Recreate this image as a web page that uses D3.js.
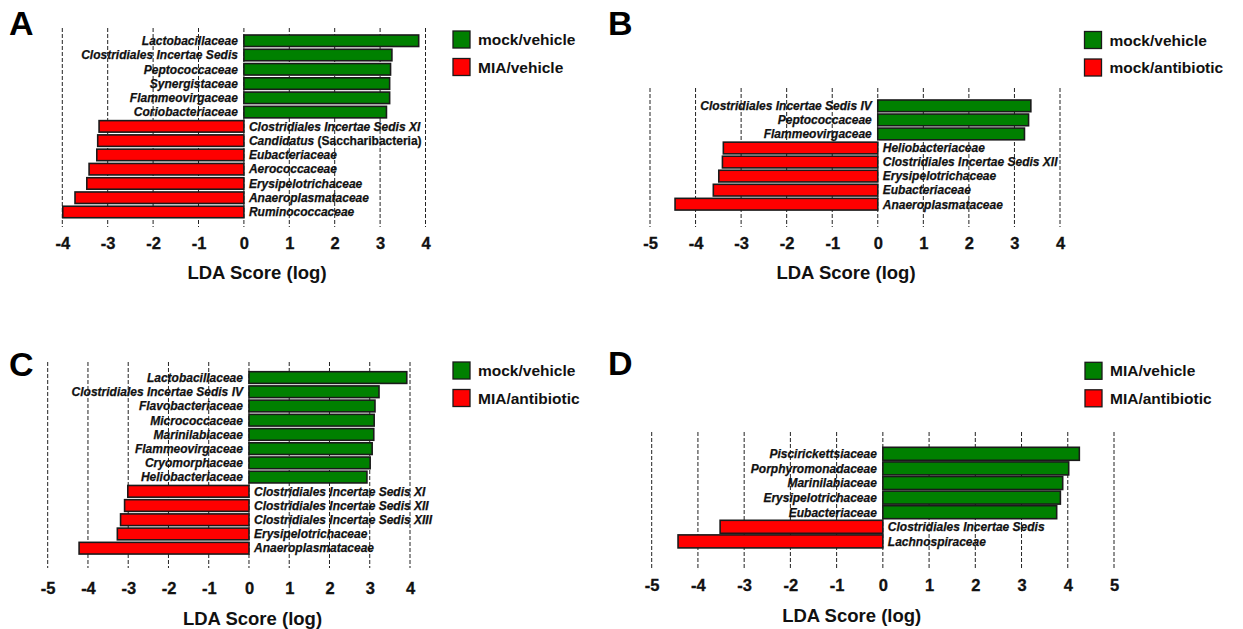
<!DOCTYPE html>
<html>
<head>
<meta charset="utf-8">
<script src="https://cdn.jsdelivr.net/npm/d3@7"></script>
<style>
  body { margin: 0; background: #fff; }
  svg { display: block; font-family: "Liberation Sans", Arial, sans-serif; }
</style>
</head>
<body>
<svg id="chart" width="1243" height="629"></svg>
<script>
// ---- data ----
const taxaA = ["Lactobacillaceae", "Clostridiales Incertae Sedis", "Peptococcaceae", "Synergistaceae",
  "Flammeovirgaceae", "Coriobacteriaceae", "Clostridiales Incertae Sedis XI", "Candidatus (Saccharibacteria)",
  "Eubacteriaceae", "Aerococcaceae", "Erysipelotrichaceae", "Anaeroplasmataceae", "Ruminococcaceae"];
const scoresA = [3.85, 3.26, 3.23, 3.21, 3.21, 3.14, -3.19, -3.22, -3.24, -3.41, -3.46, -3.72, -3.99];
const groupsA = ["mock/vehicle", "MIA/vehicle"];
const ticksA = [-4, -3, -2, -1, 0, 1, 2, 3, 4];

const taxaB = ["Clostridiales Incertae Sedis IV", "Peptococcaceae", "Flammeovirgaceae", "Heliobacteriaceae",
  "Clostridiales Incertae Sedis XII", "Erysipelotrichaceae", "Eubacteriaceae", "Anaeroplasmataceae"];
const scoresB = [3.36, 3.31, 3.22, -3.39, -3.41, -3.49, -3.61, -4.45];
const groupsB = ["mock/vehicle", "mock/antibiotic"];
const ticksB = [-5, -4, -3, -2, -1, 0, 1, 2, 3, 4];

const taxaC = ["Lactobacillaceae", "Clostridiales Incertae Sedis IV", "Flavobacteriaceae", "Micrococcaceae",
  "Marinilabiaceae", "Flammeovirgaceae", "Cryomorphaceae", "Heliobacteriaceae",
  "Clostridiales Incertae Sedis XI", "Clostridiales Incertae Sedis XII", "Clostridiales Incertae Sedis XIII",
  "Erysipelotrichaceae", "Anaeroplasmataceae"];
const scoresC = [3.92, 3.23, 3.13, 3.11, 3.10, 3.06, 3.01, 2.93, -3.01, -3.09, -3.19, -3.27, -4.22];
const groupsC = ["mock/vehicle", "MIA/antibiotic"];
const ticksC = [-5, -4, -3, -2, -1, 0, 1, 2, 3, 4];

const taxaD = ["Piscirickettsiaceae", "Porphyromonadaceae", "Marinilabiaceae", "Erysipelotrichaceae",
  "Eubacteriaceae", "Clostridiales Incertae Sedis", "Lachnospiraceae"];
const scoresD = [4.25, 4.02, 3.89, 3.84, 3.76, -3.52, -4.43];
const groupsD = ["MIA/vehicle", "MIA/antibiotic"];
const ticksD = [-5, -4, -3, -2, -1, 0, 1, 2, 3, 4, 5];

const colors = ["#008000", "#ff0000"];

const svg = d3.select("#chart");

// ---- panels ----
drawPanel({
  letter: "A", letterX: 9, letterY: 35,
  taxa: taxaA, scores: scoresA, groups: groupsA, ticks: ticksA,
  x0: 62.3, x1: 425.5, gridTop: 28, gridBottom: 227,
  barTop: 35, step: 14.27, barH: 11.5,
  tickY: 248.5, titleX: 257, titleY: 279,
  legendX: 453, legendY: 31
});
drawPanel({
  letter: "B", letterX: 608, letterY: 35,
  taxa: taxaB, scores: scoresB, groups: groupsB, ticks: ticksB,
  x0: 650, x1: 1060, gridTop: 88, gridBottom: 227,
  barTop: 100, step: 14.05, barH: 11.7,
  tickY: 248.5, titleX: 846, titleY: 279,
  legendX: 1084.5, legendY: 31.5
});
drawPanel({
  letter: "C", letterX: 9, letterY: 376,
  taxa: taxaC, scores: scoresC, groups: groupsC, ticks: ticksC,
  x0: 47.7, x1: 410, gridTop: 362, gridBottom: 568,
  barTop: 371.7, step: 14.22, barH: 11.7,
  tickY: 593.5, titleX: 252.5, titleY: 625,
  legendX: 453, legendY: 362
});
drawPanel({
  letter: "D", letterX: 608, letterY: 375,
  taxa: taxaD, scores: scoresD, groups: groupsD, ticks: ticksD,
  x0: 651.7, x1: 1114, gridTop: 432, gridBottom: 568,
  barTop: 447.3, step: 14.6, barH: 13,
  tickY: 591, titleX: 851.7, titleY: 621.7,
  legendX: 1085, legendY: 362.3
});

function drawPanel(p) {
  const g = svg.append("g");
  const n = p.taxa.length;

  const x = d3.scaleLinear()
    .domain([p.ticks[0], p.ticks[p.ticks.length - 1]])
    .range([p.x0, p.x1]);

  // band scale: each step holds one bar, centred in it
  const pad = (p.step - p.barH) / p.step;
  const y = d3.scaleBand()
    .domain(p.taxa)
    .range([p.barTop - (p.step - p.barH) / 2, p.barTop - (p.step - p.barH) / 2 + n * p.step])
    .paddingInner(pad)
    .paddingOuter(pad / 2);

  // panel letter
  svg.append("text")
    .attr("x", p.letterX).attr("y", p.letterY)
    .attr("font-size", 34).attr("font-weight", "bold")
    .text(p.letter);

  // dashed grid lines
  g.selectAll(".grid")
    .data(p.ticks)
    .join("line")
    .attr("x1", d => x(d)).attr("x2", d => x(d))
    .attr("y1", p.gridTop).attr("y2", p.gridBottom)
    .attr("stroke", "#222")
    .attr("stroke-width", 1)
    .attr("stroke-dasharray", "4,2");

  // bars
  g.selectAll(".bar")
    .data(p.taxa)
    .join("rect")
    .attr("x", (d, i) => Math.min(x(0), x(p.scores[i])))
    .attr("width", (d, i) => Math.abs(x(p.scores[i]) - x(0)))
    .attr("y", d => y(d))
    .attr("height", y.bandwidth())
    .attr("fill", (d, i) => p.scores[i] > 0 ? colors[0] : colors[1])
    .attr("stroke", "#1a1a1a")
    .attr("stroke-width", 1.6);

  // taxon labels
  const labels = g.selectAll(".lab")
    .data(p.taxa)
    .join("text")
    .attr("x", (d, i) => p.scores[i] > 0 ? x(0) - 6 : x(0) + 5)
    .attr("y", d => y(d) + y.bandwidth() / 2 + 4.3)
    .attr("text-anchor", (d, i) => p.scores[i] > 0 ? "end" : "start")
    .attr("font-size", 12)
    .attr("font-weight", "bold")
    .attr("fill", "#111")
    .attr("stroke", "#111")
    .attr("stroke-width", 0.25);
  labels.each(function(d) {
    const t = d3.select(this);
    const k = d.indexOf(" (");
    if (k < 0) {
      t.attr("font-style", "italic").text(d);
    } else {
      t.append("tspan").attr("font-style", "italic").text(d.slice(0, k));
      t.append("tspan").text(d.slice(k));
    }
  });

  // x axis tick labels (no axis line in the figure)
  const axis = d3.axisBottom(x).tickValues(p.ticks).tickSize(0).tickFormat(d3.format("d"));
  const ax = g.append("g")
    .attr("transform", `translate(0,${p.tickY - 12})`)
    .call(axis);
  ax.select(".domain").remove();
  ax.selectAll("text")
    .attr("dy", 0).attr("y", 12)
    .attr("font-size", 16.5)
    .attr("font-weight", "bold")
    .attr("font-family", "\"Liberation Sans\", Arial, sans-serif")
    .attr("fill", "#111")
    .attr("stroke", "#111")
    .attr("stroke-width", 0.3)
    .text(d => d < 0 ? "-" + Math.abs(d) : d);

  // axis title
  g.append("text")
    .attr("x", p.titleX).attr("y", p.titleY)
    .attr("text-anchor", "middle")
    .attr("font-size", 18.5)
    .attr("font-weight", "bold")
    .attr("fill", "#111")
    .text("LDA Score (log)");

  // legend
  const lg = g.append("g").attr("transform", `translate(${p.legendX},${p.legendY})`);
  lg.selectAll("rect")
    .data(p.groups)
    .join("rect")
    .attr("x", 0).attr("y", (d, i) => i * 27.5)
    .attr("width", 17).attr("height", 17)
    .attr("fill", (d, i) => colors[i])
    .attr("stroke", "#1a1a1a").attr("stroke-width", 1.3);
  lg.selectAll("text")
    .data(p.groups)
    .join("text")
    .attr("x", 25).attr("y", (d, i) => i * 27.5 + 14)
    .attr("font-size", 15.5)
    .attr("font-weight", "bold")
    .attr("fill", "#111")
    .text(d => d);
}
</script>
</body>
</html>
